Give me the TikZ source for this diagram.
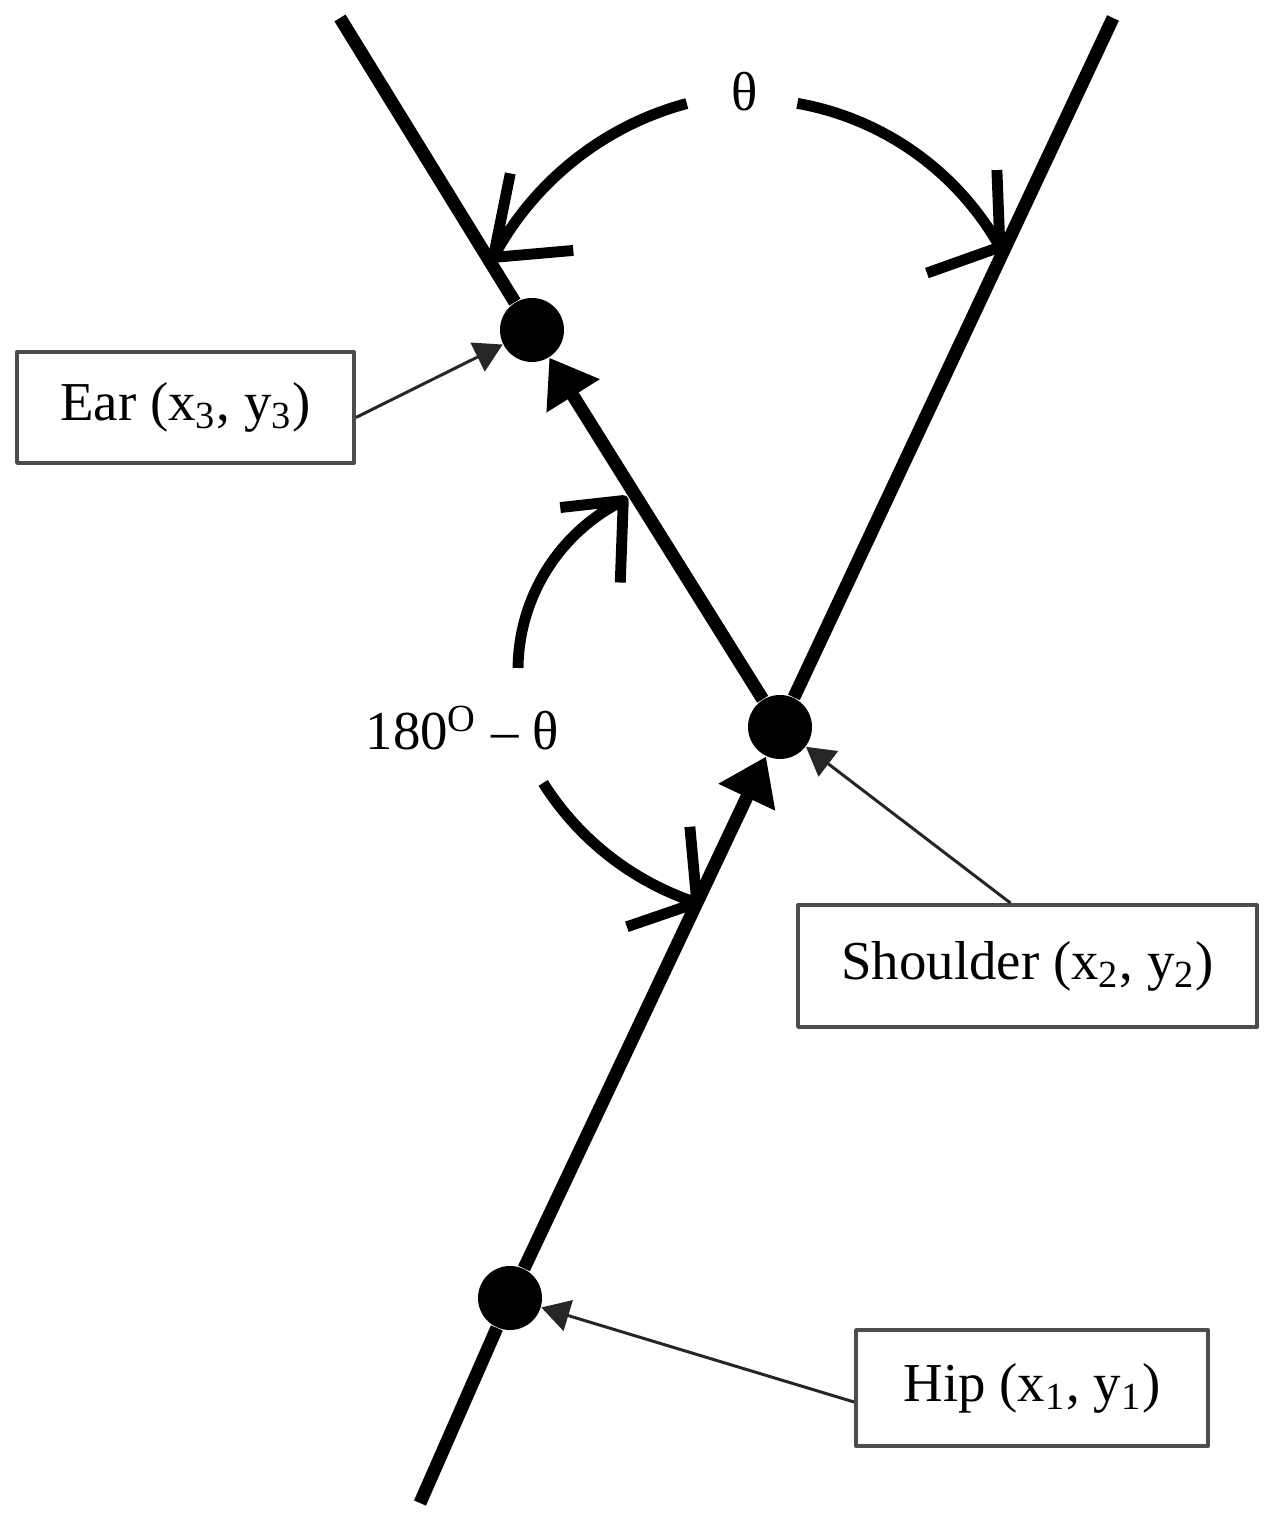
\documentclass[tikz,border=0pt]{standalone}
\usepackage{fontspec}
\setmainfont{Liberation Serif}
\usetikzlibrary{arrows,arrows.meta,positioning,calc}

\begin{document}
\begin{tikzpicture}[>={Triangle[length=8pt,width=9pt]}, line join=round, font=\fontsize{15.6pt}{18pt}\selectfont]
\tikzstyle{joint}=[circle,fill=black,inner sep=0pt,minimum size=0.64cm]
\tikzstyle{tag}=[draw=black!70,line width=1.1pt,inner sep=0pt]
\tikzstyle{bone}=[line width=3.7pt]
\tikzstyle{swing}=[line width=3.1pt]
\tikzstyle{pointer}=[->,black!85,line width=0.85pt]
\useasboundingbox (0,0) rectangle (12.77,15.25);

\node[joint]    (hip)       at (5.10,2.27)   {};
\node[joint]    (shoulder)  at (7.80,7.98)   {};
\node[joint]    (ear)       at (5.32,11.95)  {};
\coordinate     (foot)      at (4.20,0.22);
\coordinate     (topR)      at (11.13,15.07);
\coordinate     (topL)      at (3.40,15.07);

\node[tag,minimum width=3.37cm,minimum height=1.11cm] (earbox) at (1.855,11.175) {Ear (x\textsubscript{3}, y\textsubscript{3})};
\node[tag,minimum width=4.59cm,minimum height=1.22cm] (shbox)  at (10.275,5.59)  {Shoulder (x\textsubscript{2}, y\textsubscript{2})};
\node[tag,minimum width=3.52cm,minimum height=1.16cm] (hipbox) at (10.32,1.37)   {Hip (x\textsubscript{1}, y\textsubscript{1})};

\node (theta) at (7.45,14.33) {θ};
\node (supp)  at (4.62,7.97)  {180\textsuperscript{O} – θ};

\path[bone]
(foot)      edge                                       (hip)
(hip)       edge[-{Triangle[length=12.8pt,width=17pt]}] (shoulder)
(shoulder)  edge                                       (topR)
(shoulder)  edge[-{Triangle[length=12.8pt,width=17pt]}] (ear)
(ear)       edge                                       (topL);

% angle arcs with their barbs
\draw[swing] (7.67,11.22) ++(105:3.1)   arc[start angle=105,end angle=152,radius=3.1]
    -- ++(0.80,0.07) ++(-0.80,-0.07) -- ++(0.17,0.84);
\draw[swing] (7.47,11.36) ++(80:2.9)    arc[start angle=80,end angle=29.3,radius=2.9]
    -- ++(-0.03,0.77) ++(0.03,-0.77) -- ++(-0.73,-0.26);
\draw[swing] (7.07,8.55) ++(179.4:1.89) arc[start angle=179.4,end angle=116.3,radius=1.89]
    -- ++(-0.63,-0.07) ++(0.63,0.07) -- ++(-0.03,-0.82);
\draw[swing] (7.86,8.95) ++(212.2:2.87) arc[start angle=212.2,end angle=251.9,radius=2.87]
    -- ++(-0.07,0.76) ++(0.07,-0.76) -- ++(-0.70,-0.24);

\path[pointer]
([yshift=-0.1cm]earbox.east)   edge (ear)
([xshift=-0.17cm]shbox.north)  edge (shoulder)
([yshift=-0.14cm]hipbox.west)  edge (hip);

\end{tikzpicture}
\end{document}
